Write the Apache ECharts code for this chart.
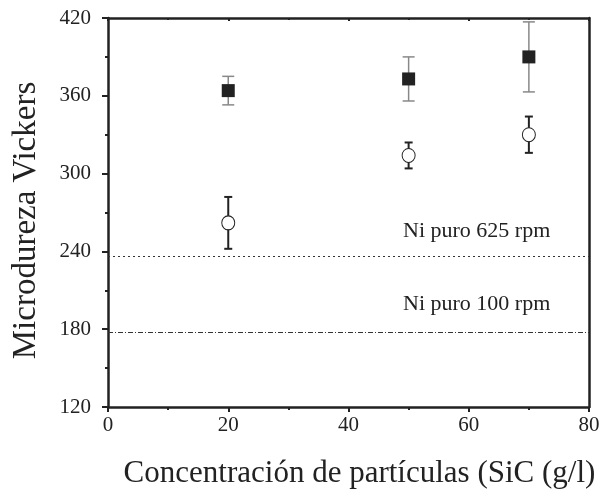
<!DOCTYPE html>
<html>
<head>
<meta charset="utf-8">
<script src="https://cdn.jsdelivr.net/npm/echarts@6/dist/echarts.min.js"></script>
<style>
  html, body { margin: 0; padding: 0; background: #fff; }
  #chart { width: 607px; height: 492px; }
</style>
</head>
<body>
<div id="chart"></div>
<script>
// concentraciones SiC (g/l)
var concentracion = [20, 50, 70];
// microdureza con SiC (cuadrados llenos) y su error
var durezaA = [364, 373, 390];
var errorA = [11, 17, 27];
// microdureza (círculos abiertos) y su error
var durezaB = [262, 314, 330];
var errorB = [20, 10, 14];
// Ni puro, líneas de referencia
var niPuro = [236, 178];
var niPuroTexto = ['Ni puro 625 rpm', 'Ni puro 100 rpm'];

var fuente = 'Liberation Serif';

function puntos(y) {
  return concentracion.map(function (x, i) { return [x, y[i]]; });
}
function barras(y, e) {
  return concentracion.map(function (x, i) { return [x, y[i] - e[i], y[i] + e[i]]; });
}
function errorItem(color, ancho, cap) {
  return function (params, api) {
    var x = api.value(0);
    var lo = api.coord([x, api.value(1)]);
    var hi = api.coord([x, api.value(2)]);
    var st = { stroke: color, lineWidth: ancho };
    return {
      type: 'group',
      children: [
        { type: 'line', shape: { x1: lo[0], y1: lo[1], x2: hi[0], y2: hi[1] }, style: st },
        { type: 'line', shape: { x1: lo[0] - cap, y1: lo[1], x2: lo[0] + cap, y2: lo[1] }, style: st },
        { type: 'line', shape: { x1: hi[0] - cap, y1: hi[1], x2: hi[0] + cap, y2: hi[1] }, style: st }
      ]
    };
  };
}

var ejeLinea = { show: true, onZero: false, lineStyle: { color: '#222', width: 2.5 } };

var option = {
  animation: false,
  backgroundColor: '#fff',
  grid: { left: 108, right: 18, top: 18, bottom: 85, outerBoundsMode: 'none', containLabel: false },
  xAxis: [{
    type: 'value', min: 0, max: 80, interval: 20,
    axisLine: ejeLinea,
    axisTick: { show: true, length: 5, lineStyle: { color: '#222', width: 2 } },
    minorTick: { show: true, splitNumber: 2, length: 3, lineStyle: { color: '#222', width: 2 } },
    splitLine: { show: false },
    axisLabel: { fontFamily: fuente, fontSize: 21, color: '#222', margin: 8 },
    name: 'Concentración de partículas (SiC (g/l)',
    nameLocation: 'middle', nameGap: 51,
    nameTextStyle: { fontFamily: fuente, fontSize: 31, color: '#222', padding: [0, 0, 0, 22] }
  }, {
    type: 'value', min: 0, max: 80, interval: 20, position: 'top',
    axisLine: ejeLinea,
    axisTick: { show: true, inside: true, length: 3, lineStyle: { color: '#222', width: 2 } },
    minorTick: { show: true, splitNumber: 2, length: 2, lineStyle: { color: '#222', width: 2 } },
    splitLine: { show: false },
    axisLabel: { show: false }
  }],
  yAxis: [{
    type: 'value', min: 120, max: 420, interval: 60,
    axisLine: ejeLinea,
    axisTick: { show: true, length: 6, lineStyle: { color: '#222', width: 2 } },
    minorTick: { show: true, splitNumber: 2, length: 3, lineStyle: { color: '#222', width: 2 } },
    splitLine: { show: false },
    axisLabel: { fontFamily: fuente, fontSize: 21, color: '#222', margin: 17 },
    name: 'Microdureza Vickers',
    nameLocation: 'middle', nameGap: 65,
    nameTextStyle: { fontFamily: fuente, fontSize: 33, color: '#222', padding: [0, 16, 0, 0] }
  }, {
    type: 'value', min: 120, max: 420, interval: 60, position: 'right',
    axisLine: ejeLinea,
    axisTick: { show: false },
    splitLine: { show: false },
    axisLabel: { show: false }
  }],
  series: [{
    type: 'line', data: [], silent: true,
    markLine: {
      symbol: 'none', silent: true,
      label: { show: false },
      data: [
        { yAxis: niPuro[0], lineStyle: { color: '#333', width: 1, type: [2, 3] } },
        { yAxis: niPuro[1], lineStyle: { color: '#333', width: 1, type: [5, 2, 1, 2] } }
      ]
    }
  }, {
    type: 'custom', data: barras(durezaA, errorA), z: 1,
    renderItem: errorItem('#888', 1.5, 6),
    encode: { x: 0, y: [1, 2] }
  }, {
    type: 'custom', data: barras(durezaB, errorB), z: 1,
    renderItem: errorItem('#222', 2, 4),
    encode: { x: 0, y: [1, 2] }
  }, {
    type: 'scatter', data: puntos(durezaA), symbol: 'rect', symbolSize: 13, z: 3,
    itemStyle: { color: '#222', opacity: 1 }
  }, {
    type: 'scatter', data: puntos(durezaB), symbol: 'circle', symbolSize: [13, 14], z: 3,
    itemStyle: { color: '#fff', borderColor: '#222', borderWidth: 1, opacity: 1 }
  }],
  graphic: [
    { type: 'text', left: 403, top: 220, style: { text: niPuroTexto[0], font: '22px "Liberation Serif"', fill: '#222' } },
    { type: 'text', left: 403, top: 293, style: { text: niPuroTexto[1], font: '22px "Liberation Serif"', fill: '#222' } }
  ]
};

var myChart = echarts.init(document.getElementById('chart'));
myChart.setOption(option);
</script>
</body>
</html>
